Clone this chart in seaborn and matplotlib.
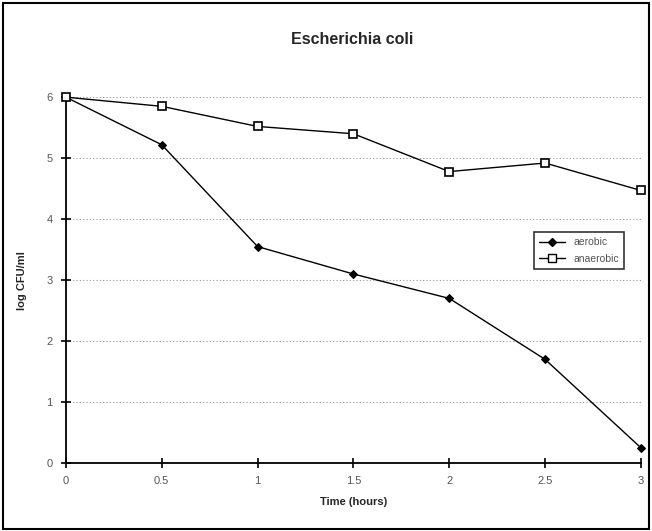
import matplotlib
matplotlib.use("Agg")
import matplotlib.pyplot as plt
import seaborn as sns
import pandas as pd
from matplotlib.lines import Line2D

time_hours = [0, 0.5, 1, 1.5, 2, 2.5, 3]
aerobic = [6.0, 5.22, 3.55, 3.1, 2.7, 1.7, 0.25]
anaerobic = [6.0, 5.85, 5.52, 5.4, 4.78, 4.92, 4.47]
x_ticks = [0, 0.5, 1, 1.5, 2, 2.5, 3]
x_tick_labels = ["0", "0.5", "1", "1.5", "2", "2.5", "3"]
y_ticks = [0, 1, 2, 3, 4, 5, 6]

sns.set_theme(style="white")
plt.rcParams['font.family'] = ['Liberation Sans', 'DejaVu Sans']

df = pd.DataFrame({
    "time": time_hours * 2,
    "value": aerobic + anaerobic,
    "series": ["aerobic"] * len(aerobic) + ["anaerobic"] * len(anaerobic),
})

fig = plt.figure(figsize=(6.52, 5.31), dpi=100)
ax = fig.add_axes([0.101, 0.128, 0.882, 0.689])

sns.lineplot(data=df, x="time", y="value", hue="series", style="series",
             markers={"aerobic": "D", "anaerobic": "s"}, dashes=False,
             palette={"aerobic": "black", "anaerobic": "black"},
             linewidth=1.0, markersize=5, ax=ax, legend=False)
lines = ax.get_lines()
for ln in lines:
    ln.set_clip_on(False)
    ln.set_zorder(5)
if len(lines) >= 2:
    lines[0].set_markersize(4)
    lines[0].set_markerfacecolor("black")
    lines[0].set_markeredgecolor("black")
    lines[1].set_markerfacecolor("white")
    lines[1].set_markeredgecolor("black")
    lines[1].set_markeredgewidth(1.2)
    lines[1].set_markersize(5.5)

ax.set_xlim(0, 3)
ax.set_ylim(0, 6)
ax.set_xticks(x_ticks)
ax.set_xticklabels(x_tick_labels)
ax.set_yticks(y_ticks)
ax.tick_params(axis="both", which="major", bottom=True, left=True,
               direction="inout", length=7, width=1.2, labelsize=8,
               colors="black", labelcolor="#555555", pad=6)
ax.yaxis.grid(True, linestyle=(0, (1, 2)), color="#999999", linewidth=0.8)
ax.xaxis.grid(False)
for s in ["top", "right"]:
    ax.spines[s].set_visible(False)
for s in ["left", "bottom"]:
    ax.spines[s].set_color("black")
    ax.spines[s].set_linewidth(1.3)

ax.set_xlabel("Time (hours)", fontsize=8, fontweight="bold", labelpad=8)
ax.set_ylabel("log CFU/ml", fontsize=8, fontweight="bold", labelpad=14)
fig.text(0.54, 0.926, "Escherichia coli", ha="center", va="center",
         fontsize=11.5, fontweight="bold")

handles = [Line2D([], [], color="black", marker="D", markersize=4, linewidth=1, markerfacecolor="black"),
           Line2D([], [], color="black", marker="s", markersize=5.5, linewidth=1, markerfacecolor="white")]
leg = ax.legend(handles, ["aerobic", "anaerobic"], loc="upper left",
                bbox_to_anchor=(0.805, 0.645), frameon=True, fancybox=False,
                edgecolor="black", fontsize=7.5, handlelength=2.5,
                borderpad=0.5, labelspacing=0.6)
leg.get_frame().set_linewidth(1.2)
for t in leg.get_texts():
    t.set_color("#555555")

fig.patches.append(plt.Rectangle((0.004, 0.004), 0.992, 0.99, transform=fig.transFigure,
                                 fill=False, edgecolor="black", linewidth=1.5))

fig.savefig("out.png", dpi=100)
